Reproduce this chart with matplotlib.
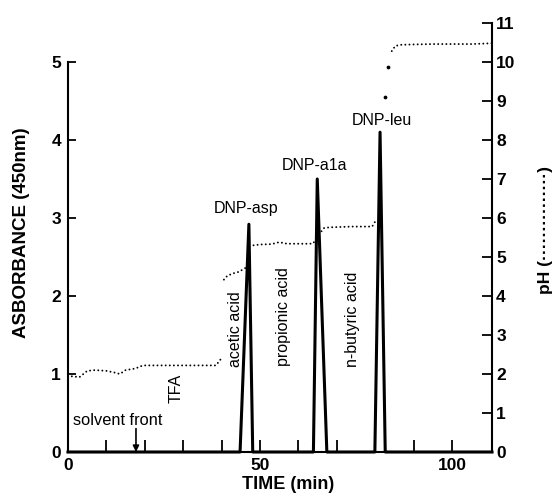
import matplotlib
matplotlib.use("Agg")
import matplotlib.pyplot as plt
import numpy as np

plt.rcParams['font.family'] = ['Liberation Sans', 'DejaVu Sans']

# ---------------- data ----------------
# absorbance trace (triangular peaks)
abs_time = [0, 44.8, 47.1, 48.1, 63.9, 64.9, 67.4, 79.9, 81.25, 82.6, 110.4]
abs_value = [0, 0, 2.92, 0, 0, 3.50, 0, 0, 4.10, 0, 0]

# pH trace, plateaus (NaN separates segments)
ph_time = [1.0, 3.0, 5.0, 7.0, 10.0, 12.0, 13.5, 15.0, 17.5, 19.5, 25, 30, 35, 38.5, 40.1, np.nan,
           40.6, 41.5, 43.0, 44.5, 46.2, np.nan,
           48.3, 50, 53, 55, 57, 60, 63, 63.9, 64.3, np.nan,
           66.0, 66.6, 68, 71, 74, 77, 79.2, 80.4, np.nan,
           84.3, 85.2, 86.5, 90, 95, 100, 105, 110.4]
ph_value = [1.94, 1.92, 2.08, 2.10, 2.08, 2.04, 2.00, 2.10, 2.14, 2.22, 2.22, 2.22, 2.22, 2.22, 2.42, np.nan,
            4.42, 4.52, 4.58, 4.62, 4.72, np.nan,
            5.30, 5.32, 5.33, 5.38, 5.34, 5.34, 5.34, 5.35, 5.44, np.nan,
            5.66, 5.74, 5.76, 5.77, 5.78, 5.78, 5.78, 5.98, np.nan,
            10.28, 10.41, 10.44, 10.45, 10.46, 10.46, 10.46, 10.48]
# isolated pH readings during the final jump
ph_jump_time = [82.55, 83.4]
ph_jump_value = [9.11, 9.88]

peak_labels = ['DNP-asp', 'DNP-a1a', 'DNP-leu']
peak_label_x = [46.4, 64.3, 81.7]
peak_label_y = [3.06, 3.61, 4.19]

eluent_labels = ['TFA', 'acetic acid', 'propionic acid', 'n-butyric acid']
eluent_x = [28.1, 43.5, 56.1, 74.0]
eluent_y = [0.82, 1.58, 1.73, 1.70]

solvent_front_time = 17.7

x_major = [0, 50, 100]
x_major_labels = ['0', '50', '100']
x_minor = [10, 20, 30, 40, 60, 70, 80, 90]
y_abs_ticks = [0, 1, 2, 3, 4, 5]
y_ph_ticks = list(range(0, 12))

# ---------------- figure ----------------
fig = plt.figure(figsize=(5.53, 5.03), dpi=100)
ax = fig.add_axes([68/553, 1-452/503, 424/553, 429/503])
ax2 = ax.twinx()

ax.set_xlim(0, 110.4)
ax.set_ylim(0, 5.5)
ax2.set_ylim(0, 11)

ax.plot(abs_time, abs_value, color='black', lw=2.2, solid_joinstyle='round', clip_on=False, zorder=3)
ax2.plot(ph_time, ph_value, color='black', lw=1.4, linestyle=(0, (0.01, 2.1)),
         dash_capstyle='round', zorder=3)
ax2.plot(ph_jump_time, ph_jump_value, 'o', color='black', ms=1.7, zorder=3)

# spines
for s in ['top', 'right']:
    ax.spines[s].set_visible(False)
for s in ['top', 'left', 'bottom']:
    ax2.spines[s].set_visible(False)
ax.spines['left'].set_bounds(0, 5)
for sp in [ax.spines['left'], ax.spines['bottom'], ax2.spines['right']]:
    sp.set_linewidth(1.5)

# ticks
ax.set_xticks(x_major)
ax.set_xticklabels(x_major_labels)
ax.set_xticks(x_minor, minor=True)
ax.set_yticks(y_abs_ticks)
ax.set_yticklabels([str(v) for v in y_abs_ticks])
ax2.set_yticks(y_ph_ticks)
ax2.set_yticklabels([str(v) for v in y_ph_ticks])

ax.tick_params(axis='x', which='both', direction='in', length=9, width=1.3, labelsize=12.5, pad=4)
ax.tick_params(axis='y', which='both', direction='in', length=6, width=1.3, labelsize=12.5, pad=5)
ax2.tick_params(axis='y', direction='in', length=7, width=1.3, labelsize=12.5, pad=3)
for lab in ax.get_xticklabels() + ax.get_yticklabels() + ax2.get_yticklabels():
    lab.set_fontweight('bold')

# axis labels
ax.set_xlabel('TIME (min)', fontsize=13, fontweight='bold')
ax.xaxis.set_label_coords(0.518, -0.056)
ax.set_ylabel('ASBORBANCE (450nm)', fontsize=13.5, fontweight='bold')
ax.yaxis.set_label_coords(-0.09, 0.512)
ax2.set_ylabel('pH (' + '\u00b7' * 15 + ')', fontsize=12.5, fontweight='bold', rotation=90)
ax2.yaxis.set_label_coords(1.108, 0.5175)

# annotations
for t, x, y in zip(peak_labels, peak_label_x, peak_label_y):
    ax.text(x, y, t, ha='center', va='baseline', fontsize=11.5)
for t, x, y in zip(eluent_labels, eluent_x, eluent_y):
    ax.text(x, y, t, ha='center', va='center', rotation=90, fontsize=11.5)
ax.text(13.0, 0.345, 'solvent front', ha='center', va='baseline', fontsize=11.8)
ax.annotate('', xy=(solvent_front_time, 0.0), xytext=(solvent_front_time, 0.3),
            arrowprops=dict(arrowstyle='-|>', color='black', lw=1.2, mutation_scale=9,
                            shrinkA=0, shrinkB=0))

fig.savefig('out.png', dpi=100)
